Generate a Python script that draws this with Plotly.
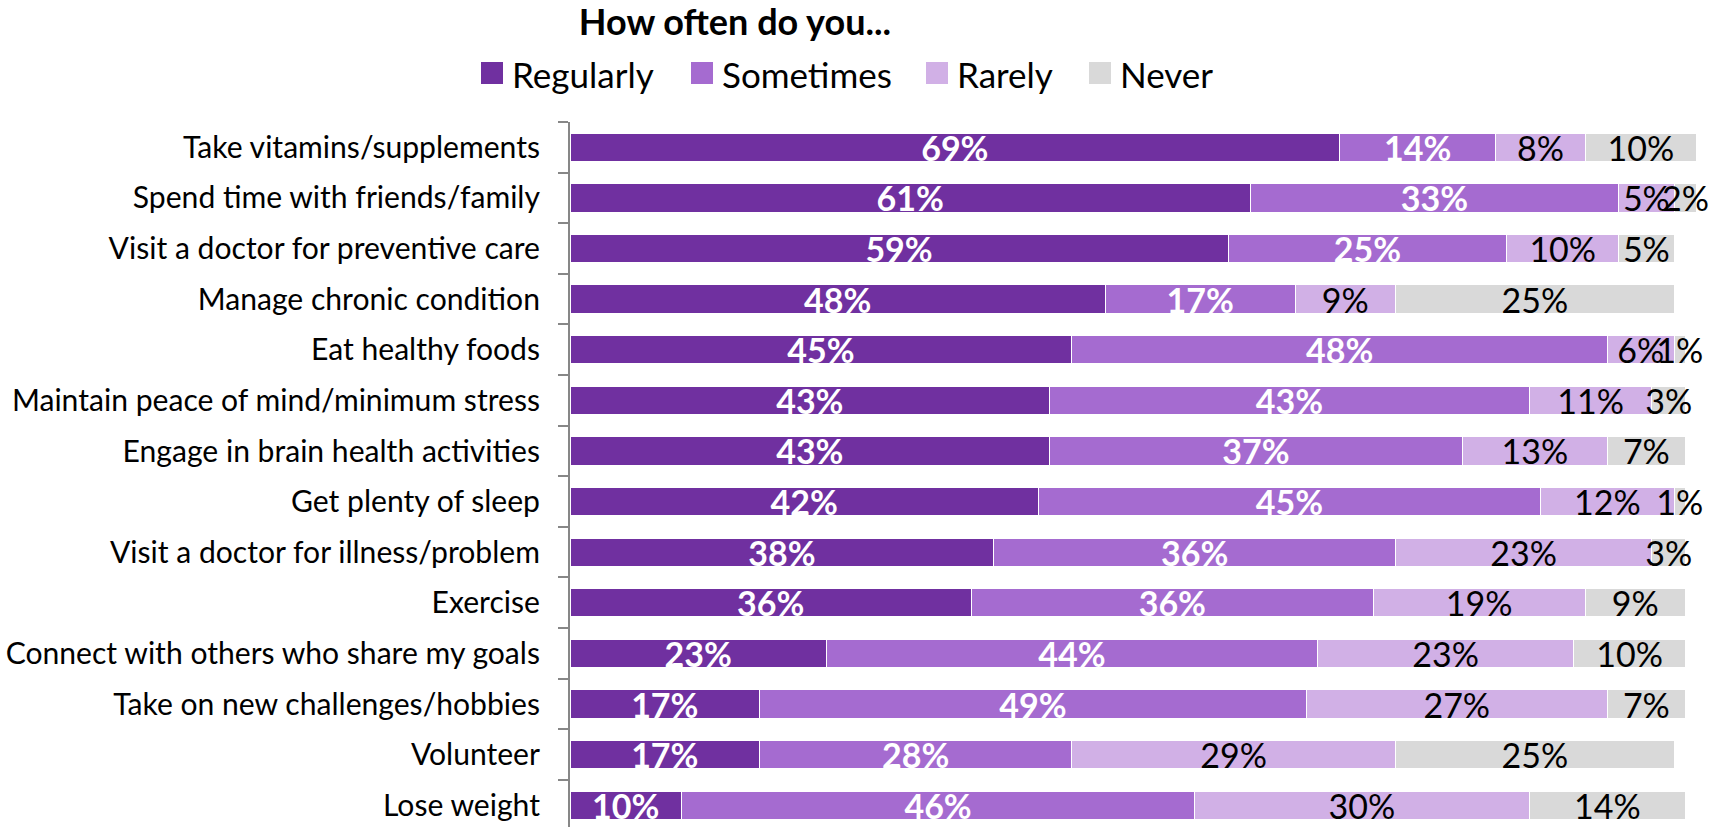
import plotly.graph_objects as go

# Survey items, top to bottom
activities = [
    "Take vitamins/supplements",
    "Spend time with friends/family",
    "Visit a doctor for preventive care",
    "Manage chronic condition",
    "Eat healthy foods",
    "Maintain peace of mind/minimum stress",
    "Engage in brain health activities",
    "Get plenty of sleep",
    "Visit a doctor for illness/problem",
    "Exercise",
    "Connect with others who share my goals",
    "Take on new challenges/hobbies",
    "Volunteer",
    "Lose weight",
]

# Share of respondents (%) per answer
answers = ["Regularly", "Sometimes", "Rarely", "Never"]
regularly = [69, 61, 59, 48, 45, 43, 43, 42, 38, 36, 23, 17, 17, 10]
sometimes = [14, 33, 25, 17, 48, 43, 37, 45, 36, 36, 44, 49, 28, 46]
rarely = [8, 5, 10, 9, 6, 11, 13, 12, 23, 19, 23, 27, 29, 30]
never = [10, 2, 5, 25, 1, 3, 7, 1, 3, 9, 10, 7, 25, 14]

colors = ["#7030A0", "#A56BD0", "#D1B0E6", "#D9D9D9"]
label_colors = ["white", "white", "black", "black"]
label_weights = ["bold", "bold", "normal", "normal"]

FONT = "Lato"
W, H = 1725, 827
LEFT, TOP = 570, 122
PLOT_W = 1150
PLOT_H = H - TOP
X_MAX = 103.1


def px_x(px):
    """Horizontal pixel position -> paper coordinate."""
    return (px - LEFT) / PLOT_W


def px_y(py):
    """Vertical pixel position -> paper coordinate."""
    return (H - py) / PLOT_H


fig = go.Figure()
for name, vals, color, tcolor, tweight in zip(
        answers, [regularly, sometimes, rarely, never], colors, label_colors, label_weights):
    fig.add_trace(go.Bar(
        name=name,
        y=activities,
        x=vals,
        orientation="h",
        marker=dict(color=color, line=dict(color="white", width=1)),
        text=[f"{v}%" for v in vals],
        textposition="inside",
        insidetextanchor="middle",
        textangle=0,
        constraintext="none",
        insidetextfont=dict(family=FONT, size=34, color=tcolor, weight=tweight),
        width=0.56,
        showlegend=False,
        hoverinfo="skip",
    ))

# Legend row: coloured squares with their answer names
legend_left = [481, 691, 926, 1089]
SQ = 22
LEG_Y = 73
shapes = []
annotations = []
for name, color, left in zip(answers, colors, legend_left):
    shapes.append(dict(
        type="rect", xref="paper", yref="paper",
        x0=px_x(left), x1=px_x(left + SQ),
        y0=px_y(LEG_Y + SQ / 2), y1=px_y(LEG_Y - SQ / 2),
        fillcolor=color, line=dict(width=0),
    ))
    annotations.append(dict(
        text=name, xref="paper", yref="paper",
        x=px_x(left + 29), y=px_y(LEG_Y + 1),
        xanchor="left", yanchor="middle", showarrow=False,
        font=dict(family=FONT, size=35, color="black"),
    ))

fig.update_layout(
    barmode="stack",
    width=W,
    height=H,
    paper_bgcolor="white",
    plot_bgcolor="white",
    margin=dict(l=LEFT, r=W - LEFT - PLOT_W, t=TOP, b=0, autoexpand=False),
    font=dict(family=FONT, color="black"),
    showlegend=False,
    title=dict(
        text="<b>How often do you...</b>",
        font=dict(family=FONT, size=36, color="black"),
        xref="container", x=735 / W, xanchor="center",
        yref="container", y=1 - 22 / H, yanchor="middle",
    ),
    shapes=shapes,
    annotations=annotations,
    xaxis=dict(
        range=[0, X_MAX],
        visible=False,
        fixedrange=True,
    ),
    yaxis=dict(
        type="category",
        categoryorder="array",
        categoryarray=activities,
        range=[13.43, -0.5],
        tickson="boundaries",
        ticks="outside",
        ticklen=10,
        tickwidth=2,
        tickcolor="#878787",
        showline=True,
        linecolor="#878787",
        linewidth=2,
        showgrid=False,
        ticklabelstandoff=22,
        tickfont=dict(family=FONT, size=30.1, color="black"),
        fixedrange=True,
    ),
)

fig.write_html("out.html")
